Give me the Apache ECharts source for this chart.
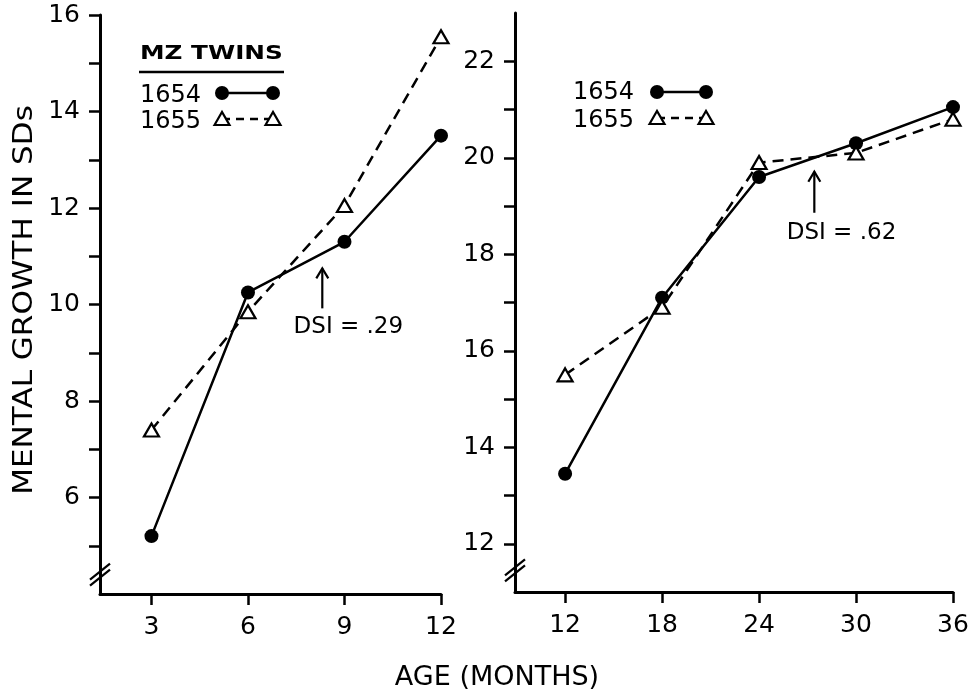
<!DOCTYPE html>
<html>
<head>
<meta charset="utf-8">
<script src="https://cdn.jsdelivr.net/npm/echarts@6/dist/echarts.min.js"></script>
<style>
  html, body { margin: 0; padding: 0; background: #fff; }
  #chart { width: 977px; height: 697px; }
</style>
</head>
<body>
<div id="chart"></div>
<script>
// data
const leftAges = [3, 6, 9, 12];
const left1654 = [5.2, 10.25, 11.3, 13.5];
const left1655 = [7.4, 9.85, 12.05, 15.55];

const rightAges = [12, 18, 24, 30, 36];
const right1654 = [13.45, 17.1, 19.6, 20.3, 21.05];
const right1655 = [15.5, 16.9, 19.9, 20.1, 20.8];

const leftXTicks = [3, 6, 9, 12];
const rightXTicks = [12, 18, 24, 30, 36];
const leftYLabels = [6, 8, 10, 12, 14, 16];
const leftYTicks = [5, 6, 7, 8, 9, 10, 11, 12, 13, 14, 15, 16];
const rightYLabels = [12, 14, 16, 18, 20, 22];
const rightYTicks = [12, 13, 14, 15, 16, 17, 18, 19, 20, 21, 22];

// annotations: arrow x, arrow bottom / tip y, label position (data units)
const leftNote = { text: 'DSI = .29', x: 8.31, y0: 9.92, y1: 10.75, tx: 9.12, ty: 9.54 };
const rightNote = { text: 'DSI = .62', x: 27.42, y0: 18.86, y1: 19.71, tx: 29.1, ty: 18.44 };

const FONT = 'DejaVu Sans';
const INK = '#000';

const chart = echarts.init(document.getElementById('chart'));

function xAxis(idx, min, max, ticks) {
  return {
    type: 'value', gridIndex: idx, min: min, max: max,
    splitLine: { show: false },
    axisLine: { lineStyle: { color: INK, width: 3 } },
    axisTick: { length: 11, lineStyle: { color: INK, width: 2.5 }, customValues: ticks },
    axisLabel: { color: INK, fontSize: 25, fontFamily: FONT, margin: 21, customValues: ticks }
  };
}

function yAxis(idx, min, max, ticks, labels) {
  return {
    type: 'value', gridIndex: idx, min: min, max: max,
    splitLine: { show: false },
    axisLine: { lineStyle: { color: INK, width: 3 } },
    axisTick: { length: 11, lineStyle: { color: INK, width: 2.5 }, customValues: ticks },
    axisLabel: { color: INK, fontSize: 25, fontFamily: FONT, margin: 20, customValues: labels }
  };
}

function solid(name, xi, ages, vals) {
  return {
    name: name, type: 'line', xAxisIndex: xi, yAxisIndex: xi, z: 2,
    data: ages.map((a, i) => [a, vals[i]]),
    symbol: 'circle', symbolSize: 14,
    lineStyle: { color: INK, width: 2.5 },
    itemStyle: { color: INK },
    animation: false
  };
}

function dashed(name, xi, ages, vals) {
  return {
    name: name, type: 'line', xAxisIndex: xi, yAxisIndex: xi, z: 3,
    data: ages.map((a, i) => [a, vals[i]]),
    symbol: 'triangle', symbolSize: [15, 13],
    lineStyle: { color: INK, width: 2.5, type: [11, 7] },
    itemStyle: { color: '#fff', borderColor: INK, borderWidth: 2.2 },
    animation: false
  };
}

chart.setOption({
  backgroundColor: '#fff',
  animation: false,
  grid: [
    { left: 100, top: 15, width: 341, height: 579 },
    { left: 515, top: 13, width: 438, height: 579 }
  ],
  xAxis: [xAxis(0, 1.4, 12, leftXTicks), xAxis(1, 8.9, 36, rightXTicks)],
  yAxis: [yAxis(0, 4, 16, leftYTicks, leftYLabels), yAxis(1, 11, 23, rightYTicks, rightYLabels)],
  series: [
    solid('1654', 0, leftAges, left1654),
    dashed('1655', 0, leftAges, left1655),
    solid('1654', 1, rightAges, right1654),
    dashed('1655', 1, rightAges, right1655)
  ]
});

// decorations placed through the axes
const px = (gi, p) => chart.convertToPixel({ gridIndex: gi }, p);
const graphics = [];

function breakMark(gi, xv, yv) {
  const p = px(gi, [xv, yv]);
  [-3, 3].forEach(d => {
    graphics.push({ type: 'line', shape: { x1: p[0] - 10, y1: p[1] + 8 + d, x2: p[0] + 10, y2: p[1] - 8 + d },
      style: { stroke: INK, lineWidth: 2.2 }, z: 10 });
  });
}
breakMark(0, 1.4, 4.4);
breakMark(1, 8.9, 11.45);

function note(gi, n) {
  const a = px(gi, [n.x, n.y0]);
  const b = px(gi, [n.x, n.y1]);
  const t = px(gi, [n.tx, n.ty]);
  graphics.push({ type: 'line', shape: { x1: a[0], y1: a[1], x2: b[0], y2: b[1] }, style: { stroke: INK, lineWidth: 2.2 } });
  graphics.push({ type: 'polyline', shape: { points: [[b[0] - 6, b[1] + 10], [b[0], b[1]], [b[0] + 6, b[1] + 10]] },
    style: { stroke: INK, lineWidth: 2.2, fill: null } });
  graphics.push({ type: 'text', x: t[0], y: t[1],
    style: { text: n.text, fill: INK, font: '23px ' + FONT, textAlign: 'center', textVerticalAlign: 'middle' } });
}
note(0, leftNote);
note(1, rightNote);

function legendRows(x0, xs1, xs2, rows) {
  rows.forEach(r => {
    graphics.push({ type: 'text', x: x0, y: r.y,
      style: { text: r.name, fill: INK, font: '24px ' + FONT, textAlign: 'left', textVerticalAlign: 'middle' } });
    if (r.kind === 'circle') {
      graphics.push({ type: 'line', shape: { x1: xs1, y1: r.sy, x2: xs2, y2: r.sy }, style: { stroke: INK, lineWidth: 2.5 } });
      [xs1, xs2].forEach(x => graphics.push({ type: 'circle', shape: { cx: x, cy: r.sy, r: 7 }, style: { fill: INK } }));
    } else {
      graphics.push({ type: 'line', shape: { x1: xs1, y1: r.sy, x2: xs2, y2: r.sy }, style: { stroke: INK, lineWidth: 2.5, lineDash: [8, 6] } });
      [xs1, xs2].forEach(x => graphics.push({ type: 'polygon', z: 5,
        shape: { points: [[x - 7.5, r.sy + 6], [x, r.sy - 7], [x + 7.5, r.sy + 6]] },
        style: { fill: '#fff', stroke: INK, lineWidth: 2.2 } }));
    }
  });
}

graphics.push({ type: 'text', x: 140, y: 54, scaleX: 1.3,
  style: { text: 'MZ TWINS', fill: INK, font: 'bold 19px ' + FONT, textAlign: 'left', textVerticalAlign: 'middle' } });
graphics.push({ type: 'line', shape: { x1: 139, y1: 72, x2: 284, y2: 72 }, style: { stroke: INK, lineWidth: 2.5 } });
legendRows(140, 222, 273, [
  { name: '1654', y: 96, sy: 93, kind: 'circle' },
  { name: '1655', y: 122, sy: 119, kind: 'tri' }
]);
legendRows(573, 657, 706, [
  { name: '1654', y: 93, sy: 92, kind: 'circle' },
  { name: '1655', y: 121, sy: 118, kind: 'tri' }
]);

// axis titles
graphics.push({ type: 'text', x: 25, y: 300, rotation: Math.PI / 2, scaleX: 1.15,
  style: { text: 'MENTAL GROWTH IN SDs', fill: INK, font: '27px ' + FONT, textAlign: 'center', textVerticalAlign: 'middle' } });
graphics.push({ type: 'text', x: 497, y: 678,
  style: { text: 'AGE (MONTHS)', fill: INK, font: '27px ' + FONT, textAlign: 'center', textVerticalAlign: 'middle' } });

chart.setOption({ graphic: graphics });
</script>
</body>
</html>
